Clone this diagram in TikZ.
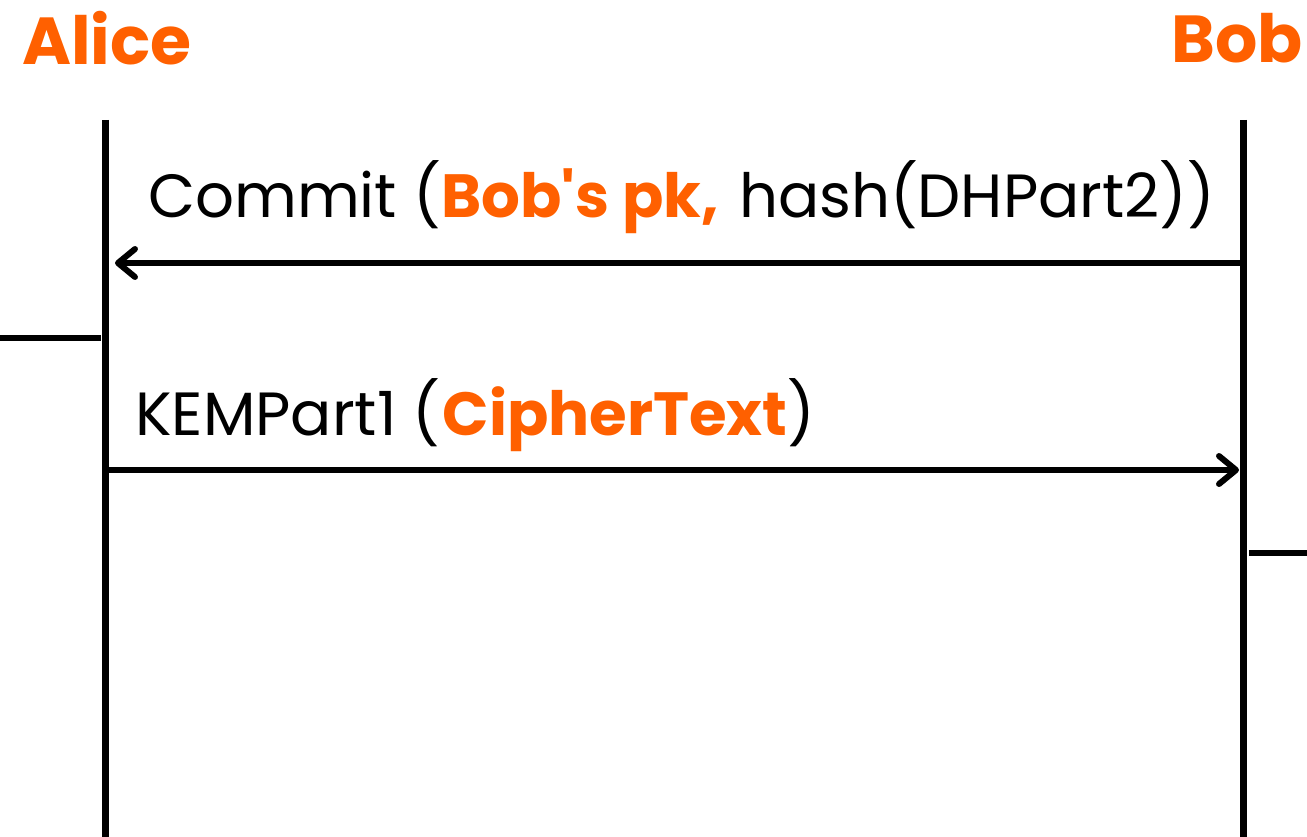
\documentclass[tikz,border=0pt]{standalone}
\usepackage{fontspec}
\setmainfont{Poppins}
\usetikzlibrary{arrows.meta}
\definecolor{accent}{RGB}{255,96,0}
\tikzset{
  lifeline/.style={line width=7pt},
  stub/.style={line width=5.5pt},
  msg/.style={line width=5.5pt, -{Straight Barb[length=17pt,width=28pt,line width=6pt,round]}},
  label/.style={anchor=base west, inner sep=0pt, font=\fontsize{61}{70}\selectfont},
  actor/.style={anchor=base west, inner sep=0pt, text=accent, font=\fontsize{66.5}{76}\selectfont\bfseries},
}
\newcommand{\hl}[1]{\textcolor{accent}{\bfseries #1}}
\begin{document}
\begin{tikzpicture}[x=1pt,y=-1pt]
  \useasboundingbox (0,0) rectangle (1307,837);
  % actors
  \node[actor] (alice) at (22,65) {Alice};
  \node[actor] (bob) at (1171,63) {Bob};
  % lifelines
  \coordinate (aTop) at (105,120);
  \coordinate (aBot) at (105,837);
  \coordinate (bTop) at (1243,120);
  \coordinate (bBot) at (1243,837);
  \draw[lifeline] (aTop) -- (aBot);
  \draw[lifeline] (bTop) -- (bBot);
  % side markers
  \coordinate (lsA) at (0,338);
  \coordinate (lsB) at (101,338);
  \coordinate (rsA) at (1249,553);
  \coordinate (rsB) at (1307,553);
  \draw[stub] (lsA) -- (lsB);
  \draw[stub] (rsA) -- (rsB);
  % messages
  \coordinate (m1from) at (1243,263);
  \coordinate (m1to) at (115,263);
  \coordinate (m2from) at (105,470);
  \coordinate (m2to) at (1239,470);
  \draw[msg] (m1from) -- (m1to);
  \draw[msg] (m2from) -- (m2to);
  \node[label] (commit) at (148,218) {Commit (\hl{Bob\textquotesingle s pk,}\hspace{4pt} hash(DHPart2))};
  \node[label] (kem) at (135,435) {KEMPart1 (\hspace{2pt}\hl{CipherText})};
\end{tikzpicture}
\end{document}
